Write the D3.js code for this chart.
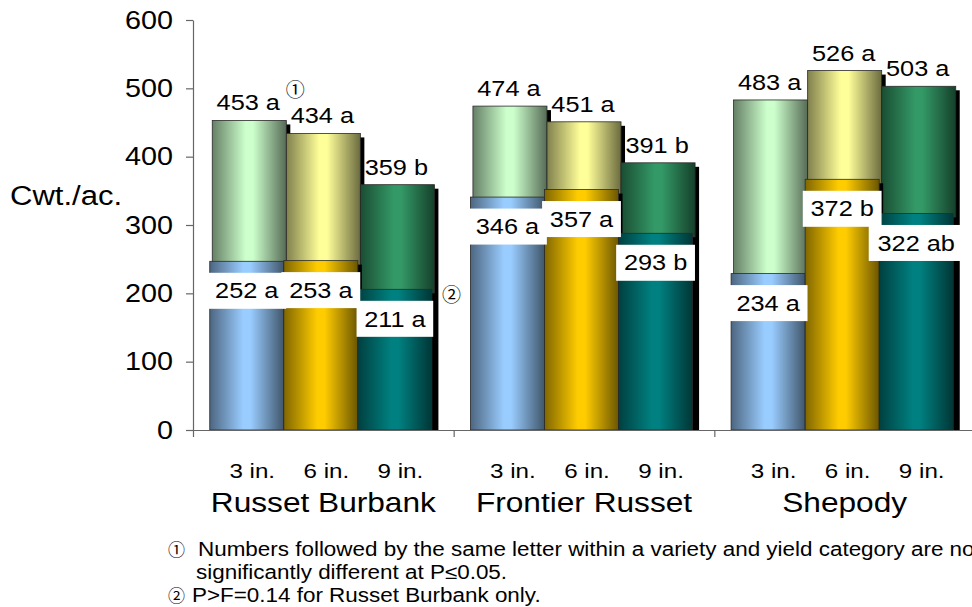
<!DOCTYPE html>
<html>
<head>
<meta charset="utf-8">
<script src="https://cdn.jsdelivr.net/npm/d3@7"></script>
<style>
  body { margin: 0; background: #fff; }
  svg { display: block; }
</style>
</head>
<body>
<div id="chart"></div>
<script>
"use strict";

// yield data (cwt./ac.)
var varieties = ["Russet Burbank", "Frontier Russet", "Shepody"];
var spacings = ["3 in.", "6 in.", "9 in."];
var totalYield = [[453, 434, 359], [474, 451, 391], [483, 526, 503]];
var totalLetters = [["a", "a", "b"], ["a", "a", "b"], ["a", "a", "a"]];
var usOneYield = [[252, 253, 211], [346, 357, 293], [234, 372, 322]];
var usOneLetters = [["a", "a", "a"], ["a", "a", "b"], ["a", "b", "ab"]];
var yTicks = [0, 100, 200, 300, 400, 500, 600];
var notes = [
  "Numbers followed by the same letter within a variety and yield category are not",
  "significantly different at P\u22640.05.",
  "P>F=0.14 for Russet Burbank only."
];

var backColors = ["#ccffcc", "#ffff99", "#339966"];
var frontColors = ["#99ccff", "#ffcc00", "#008080"];

var K = 1.15; // the picture is a bit wide, stretch text to match

var width = 972,
  height = 607;

var svg = d3
  .select("#chart")
  .append("svg")
  .attr("width", width)
  .attr("height", height)
  .style("font-family", '"Liberation Sans", Arial, "DejaVu Sans", sans-serif');

svg.append("rect").attr("width", width).attr("height", height).attr("fill", "#fff");

var y = d3.scaleLinear().domain([0, 600]).range([430, 20]);
var xGroup = d3.scaleBand().domain(varieties).range([193, 975]);
var xBar = d3
  .scaleBand()
  .domain(spacings)
  .range([0, xGroup.bandwidth()])
  .paddingOuter(0.26);

function stretch(sel) {
  sel.each(function() {
    var w = this.getComputedTextLength();
    d3.select(this)
      .attr("textLength", w * K)
      .attr("lengthAdjust", "spacingAndGlyphs");
  });
}

function shade(c, f) {
  var r = d3.rgb(c);
  return d3.rgb(r.r * f, r.g * f, r.b * f).formatHex();
}

// cylinder-ish gradients
var defs = svg.append("defs");
function addGradient(id, color) {
  var g = defs
    .append("linearGradient")
    .attr("id", id)
    .attr("x1", "0%")
    .attr("x2", "100%")
    .attr("y1", "0%")
    .attr("y2", "0%");
  [[0, shade(color, 0.5)], [0.45, color], [0.55, color], [1, shade(color, 0.42)]].forEach(function(s) {
    g.append("stop").attr("offset", s[0]).attr("stop-color", s[1]);
  });
}
backColors.forEach(function(c, i) {
  addGradient("back" + i, c);
});
frontColors.forEach(function(c, i) {
  addGradient("front" + i, c);
});

var rows = [];
varieties.forEach(function(v, vi) {
  spacings.forEach(function(s, si) {
    rows.push({
      v: v,
      s: s,
      si: si,
      total: totalYield[vi][si],
      totalLetter: totalLetters[vi][si],
      us: usOneYield[vi][si],
      usLetter: usOneLetters[vi][si]
    });
  });
});

var bw = xBar.bandwidth();
var frontDx = -2.5,
  frontDy = 3.5,
  shadow = 4;

function bx(d) {
  return xGroup(d.v) + xBar(d.s);
}

// back series (total yield)
svg
  .append("g")
  .selectAll("rect")
  .data(rows)
  .enter()
  .append("rect")
  .attr("x", function(d) { return bx(d) + shadow; })
  .attr("y", function(d) { return y(d.total) + shadow; })
  .attr("width", bw)
  .attr("height", function(d) { return y(0) - y(d.total) - shadow; })
  .attr("fill", "#000");

svg
  .append("g")
  .selectAll("rect")
  .data(rows)
  .enter()
  .append("rect")
  .attr("x", bx)
  .attr("y", function(d) { return y(d.total); })
  .attr("width", bw)
  .attr("height", function(d) { return y(0) - y(d.total); })
  .attr("fill", function(d) { return "url(#back" + d.si + ")"; })
  .attr("stroke", "#2a2a2a")
  .attr("stroke-width", 0.8);

// front series
svg
  .append("g")
  .selectAll("rect")
  .data(rows)
  .enter()
  .append("rect")
  .attr("x", function(d) { return bx(d) + frontDx + shadow; })
  .attr("y", function(d) { return y(d.us) + frontDy + shadow; })
  .attr("width", bw)
  .attr("height", function(d) { return y(0) - y(d.us) - frontDy - shadow; })
  .attr("fill", "#000");

svg
  .append("g")
  .selectAll("rect")
  .data(rows)
  .enter()
  .append("rect")
  .attr("x", function(d) { return bx(d) + frontDx; })
  .attr("y", function(d) { return y(d.us) + frontDy; })
  .attr("width", bw)
  .attr("height", function(d) { return y(0) - y(d.us) - frontDy; })
  .attr("fill", function(d) { return "url(#front" + d.si + ")"; })
  .attr("stroke", "#2a2a2a")
  .attr("stroke-width", 0.8);

// axes
var yAxis = svg
  .append("g")
  .attr("transform", "translate(193,0)")
  .call(d3.axisLeft(y).tickValues(yTicks).tickSize(7).tickSizeOuter(0).tickPadding(13));

var bounds = d3.scaleLinear().domain([0, 3]).range([193, 975]);
var xAxis = svg
  .append("g")
  .attr("transform", "translate(0,430)")
  .call(d3.axisBottom(bounds).tickValues([0, 1, 2, 3]).tickSize(7).tickSizeOuter(0).tickFormat(""));

[yAxis, xAxis].forEach(function(a) {
  a.select(".domain").attr("stroke", "#666").attr("stroke-width", 1.2);
  a.selectAll(".tick line").attr("stroke", "#666").attr("stroke-width", 1.2);
});
yAxis
  .selectAll(".tick text")
  .attr("fill", "#000")
  .style("font-size", "25px")
  .style("font-family", '"Liberation Sans", Arial, sans-serif')
  .call(stretch);

svg
  .append("text")
  .attr("x", 10)
  .attr("y", 205)
  .style("font-size", "27px")
  .text("Cwt./ac.")
  .call(stretch);

// labels above total bars
svg
  .append("g")
  .selectAll("text")
  .data(rows)
  .enter()
  .append("text")
  .attr("x", function(d) { return bx(d) + bw / 2 - 1; })
  .attr("y", function(d) { return y(d.total) - 10; })
  .attr("text-anchor", "middle")
  .style("font-size", "22px")
  .text(function(d) { return d.total + " " + d.totalLetter; })
  .call(stretch);

// boxed labels for the front bars
var boxes = svg
  .append("g")
  .selectAll("g")
  .data(rows)
  .enter()
  .append("g")
  .attr("transform", function(d) {
    return "translate(" + (bx(d) + frontDx + bw / 2) + "," + (y(d.us) + 15) + ")";
  });
boxes
  .append("text")
  .attr("y", 18)
  .attr("dy", "0.35em")
  .attr("text-anchor", "middle")
  .style("font-size", "22px")
  .text(function(d) { return d.us + " " + d.usLetter; })
  .call(stretch);
boxes
  .insert("rect", "text")
  .attr("x", function() {
    var w = this.parentNode.querySelector("text").getComputedTextLength() * K;
    return -w / 2 - 3;
  })
  .attr("width", function() {
    return this.parentNode.querySelector("text").getComputedTextLength() * K + 6;
  })
  .attr("height", 36)
  .attr("fill", "#fff");

// note markers
var circled = '"Noto Sans CJK JP", "DejaVu Sans", sans-serif';
var first = rows[0],
  rbNine = rows[2];
svg
  .append("text")
  .attr("x", bx(first) + bw + 9)
  .attr("y", y(first.total) - 23)
  .attr("text-anchor", "middle")
  .style("font-family", circled)
  .style("font-size", "19px")
  .text("\u2460");
svg
  .append("text")
  .attr("x", bx(rbNine) + bw + 17)
  .attr("y", y(rbNine.us) + 16)
  .attr("text-anchor", "middle")
  .style("font-family", circled)
  .style("font-size", "19px")
  .text("\u2461");

// category labels
svg
  .append("g")
  .selectAll("text")
  .data(rows)
  .enter()
  .append("text")
  .attr("x", function(d) { return bx(d) + bw / 2 + 3; })
  .attr("y", 478)
  .attr("text-anchor", "middle")
  .style("font-size", "21px")
  .text(function(d) { return d.s; })
  .call(stretch);

svg
  .append("g")
  .selectAll("text")
  .data(varieties)
  .enter()
  .append("text")
  .attr("x", function(d) { return xGroup(d) + xGroup.bandwidth() / 2; })
  .attr("y", 512)
  .attr("text-anchor", "middle")
  .style("font-size", "27.5px")
  .text(function(d) { return d; })
  .call(stretch);

// footnotes
var foot = svg.append("g").style("font-size", "19.5px");
foot.append("text").attr("x", 168).attr("y", 556).style("font-family", circled).style("font-size", "17px").text("\u2460");
foot.append("text").attr("x", 198).attr("y", 556).text(notes[0]).call(stretch);
foot.append("text").attr("x", 196).attr("y", 579).text(notes[1]).call(stretch);
foot.append("text").attr("x", 168).attr("y", 602).style("font-family", circled).style("font-size", "17px").text("\u2461");
foot.append("text").attr("x", 192).attr("y", 602).text(notes[2]).call(stretch);
</script>
</body>
</html>
